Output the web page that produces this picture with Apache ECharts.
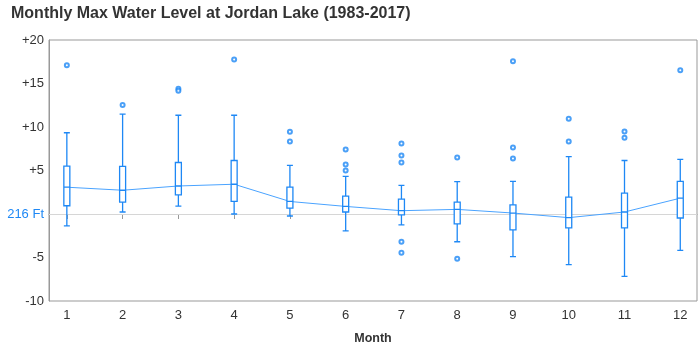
<!DOCTYPE html>
<html><head><meta charset="utf-8">
<script src="https://cdn.jsdelivr.net/npm/echarts@6/dist/echarts.min.js"></script>
<style>html,body{margin:0;padding:0;background:#fff}#c{width:700px;height:350px}</style>
</head><body><div id="c"></div>
<script>
const months = [1,2,3,4,5,6,7,8,9,10,11,12];
// [low whisker, Q1, median, Q3, high whisker]
const boxStats = [
  [-1.37, 0.95, 3.08, 5.50, 9.34],
  [0.23, 1.37, 2.73, 5.47, 11.47],
  [0.91, 2.20, 3.22, 5.92, 11.35],
  [0.00, 1.44, 3.42, 6.15, 11.35],
  [-0.23, 0.68, 1.44, 3.08, 5.58],
  [-1.94, 0.23, 0.87, 2.05, 4.33],
  [-1.25, -0.11, 0.38, 1.71, 3.30],
  [-3.19, -1.14, 0.53, 1.37, 3.72],
  [-4.90, -1.82, 0.11, 1.06, 3.76],
  [-5.81, -1.59, -0.42, 1.94, 6.60],
  [-7.18, -1.59, 0.23, 2.39, 6.15],
  [-4.18, -0.46, 1.82, 3.76, 6.27]
];
const outliers = [
  [1, 17.1], [2, 12.53], [3, 14.39], [3, 14.16], [4, 17.77],
  [5, 9.46], [5, 8.32], [6, 7.41], [6, 5.70], [6, 5.01],
  [7, 8.09], [7, 6.72], [7, 5.92], [7, -3.19], [7, -4.44],
  [8, 6.49], [8, -5.13], [9, 17.55], [9, 7.63], [9, 6.38],
  [10, 10.94], [10, 8.32], [11, 9.49], [11, 8.77], [12, 16.52]
];
const yTickLabels = {20:'+20',15:'+15',10:'+10',5:'+5',0:'216 Ft','-5':'-5','-10':'-10'};
const blue = '#1e88f5';
const font = 'Liberation Sans';

const chart = echarts.init(document.getElementById('c'), null, {renderer:'canvas'});
chart.setOption({
  animation:false,
  textStyle:{fontFamily:font},
  title:{text:'Monthly Max Water Level at Jordan Lake (1983-2017)', left:6, top:1,
    textStyle:{fontSize:16, fontWeight:'bold', color:'#333', fontFamily:font}},
  grid:{left:49, right:3, top:40, bottom:47, show:true, borderColor:'#999', borderWidth:1},
  xAxis:{type:'value', min:0.68, max:12.3,
    name:'Month', nameLocation:'middle', nameGap:31,
    nameTextStyle:{fontSize:12.5, fontWeight:'bold', color:'#333', fontFamily:font},
    axisLine:{show:true, lineStyle:{color:'#999'}},
    axisTick:{show:true, length:5, lineStyle:{color:'#999'}, customValues:months},
    axisLabel:{fontSize:13, color:'#333', margin:8, customValues:months},
    splitLine:{show:false}},
  yAxis:{type:'value', min:-10, max:20, interval:5,
    axisLine:{show:true, lineStyle:{color:'#999'}},
    axisTick:{show:false},
    axisLabel:{fontSize:13, color:'#333', margin:5,
      formatter:v => v===0 ? '{b|216 Ft}' : yTickLabels[v],
      rich:{b:{color:blue, fontSize:13, fontFamily:font}}},
    splitLine:{show:false}},
  series:[
    {type:'line', data:months.map((m,i)=>[m, boxStats[i][2]]), symbol:'none',
      lineStyle:{color:'#4aa3ff', width:1}, z:3,
      markLine:{silent:true, symbol:'none', label:{show:false},
        lineStyle:{color:'#d6d6d6', width:1, type:'solid'}, data:[{yAxis:0}], z:1}},
    {type:'boxplot', data:months.map((m,i)=>[m].concat(boxStats[i])), boxWidth:[6,6],
      itemStyle:{color:'#fff', borderColor:blue, borderWidth:1.3}, z:4},
    {type:'scatter', data:outliers, symbol:'emptyCircle', symbolSize:4,
      itemStyle:{color:blue, borderColor:blue, borderWidth:1}, z:5}
  ]
});
</script></body></html>
